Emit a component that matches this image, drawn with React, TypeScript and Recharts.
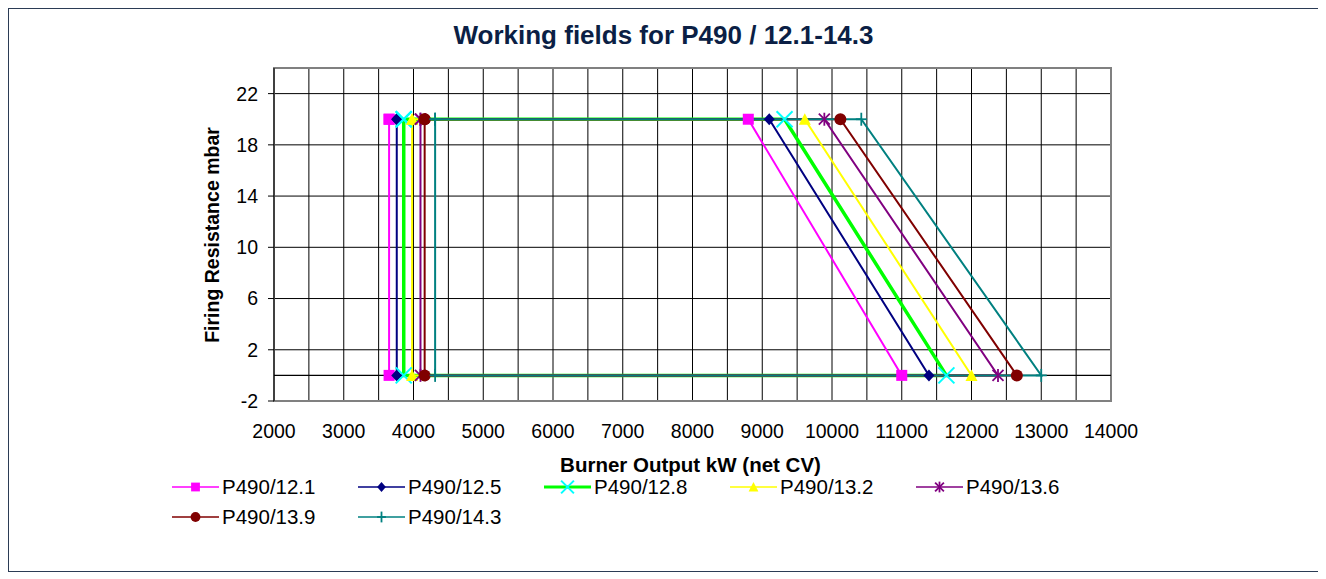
import React from "react"
import {
    CartesianGrid,
    Line,
    LineChart,
    ReferenceArea,
    ReferenceLine,
    XAxis,
    YAxis,
} from "recharts"

// series (kW at the corners of each working field)
const seriesNames = ["P490/12.1", "P490/12.5", "P490/12.8", "P490/13.2", "P490/13.6", "P490/13.9", "P490/14.3"]
const minOutput = [3650, 3760, 3860, 3980, 4100, 4160, 4310]
const maxOutputTop = [8800, 9100, 9320, 9610, 9890, 10120, 10420]
const maxOutputBase = [11000, 11390, 11640, 12000, 12380, 12650, 13000]
const topResistance = 20
const baseResistance = 0

const xTicks = [2000, 3000, 4000, 5000, 6000, 7000, 8000, 9000, 10000, 11000, 12000, 13000, 14000]
const xGrid = [2500, 3000, 3500, 4000, 4500, 5000, 5500, 6000, 6500, 7000, 7500, 8000, 8500, 9000, 9500, 10000, 10500, 11000, 11500, 12000, 12500, 13000, 13500]
const yTicks = [-2, 2, 6, 10, 14, 18, 22]

type Shape = "square" | "diamond" | "cross" | "triangle" | "star" | "circle" | "plus"

const styles: { line: string, marker: string, shape: Shape, width: number }[] = [
    { line: "#ff00ff", marker: "#ff00ff", shape: "square", width: 2 },
    { line: "#000080", marker: "#000080", shape: "diamond", width: 2 },
    { line: "#00ff00", marker: "#00ffff", shape: "cross", width: 3.5 },
    { line: "#ffff00", marker: "#ffff00", shape: "triangle", width: 2 },
    { line: "#800080", marker: "#800080", shape: "star", width: 2 },
    { line: "#800000", marker: "#800000", shape: "circle", width: 2 },
    { line: "#008080", marker: "#008080", shape: "plus", width: 2 },
]

const series = seriesNames.map((name, i) => ({
    name,
    ...styles[i],
    data: [
        { x: minOutput[i], y: topResistance },
        { x: maxOutputTop[i], y: topResistance },
        { x: maxOutputBase[i], y: baseResistance },
        { x: minOutput[i], y: baseResistance },
        { x: minOutput[i], y: topResistance },
    ],
}))

const FONT = "'Liberation Sans', Arial, sans-serif"

const Marker = ({ shape, x, y, color, s = 1 }: { shape: Shape, x: number, y: number, color: string, s?: number }) => {
    const r = 5.5 * s
    switch (shape) {
        case "square":
            return <rect x={x - r} y={y - r} width={2 * r} height={2 * r} fill={color} />
        case "diamond":
            return <polygon points={`${x},${y - r - 0.5} ${x + r},${y} ${x},${y + r + 0.5} ${x - r},${y}`} fill={color} />
        case "cross": {
            const c = 8 * s
            return (
                <g stroke={color} strokeWidth={2}>
                    <line x1={x - c} y1={y - c} x2={x + c} y2={y + c} />
                    <line x1={x - c} y1={y + c} x2={x + c} y2={y - c} />
                </g>
            )
        }
        case "triangle":
            return <polygon points={`${x},${y - r - 0.5} ${x + r + 0.5},${y + r} ${x - r - 0.5},${y + r}`} fill={color} />
        case "star":
            return (
                <g stroke={color} strokeWidth={1.8}>
                    <line x1={x - r} y1={y - r} x2={x + r} y2={y + r} />
                    <line x1={x - r} y1={y + r} x2={x + r} y2={y - r} />
                    <line x1={x} y1={y - r - 1} x2={x} y2={y + r + 1} />
                </g>
            )
        case "circle":
            return <circle cx={x} cy={y} r={r + 0.5} fill={color} />
        case "plus":
            return (
                <g stroke={color} strokeWidth={1.8}>
                    <line x1={x - r} y1={y} x2={x + r} y2={y} />
                    <line x1={x} y1={y - r - 1} x2={x} y2={y + r + 1} />
                </g>
            )
    }
    return null
}

export default function App() {
    return (
        <div
            style={{
                position: "relative",
                width: 1311,
                height: 564,
                boxSizing: "border-box",
                border: "1px solid #2b3b55",
                background: "#fff",
                fontFamily: FONT,
            }}
        >
            <div
                style={{
                    position: "absolute",
                    top: 12,
                    left: 0,
                    right: 0,
                    textAlign: "center",
                    fontSize: 26,
                    lineHeight: "28px",
                    fontWeight: "bold",
                    color: "#0b1f45",
                }}
            >
                Working fields for P490 / 12.1-14.3
            </div>

            <LineChart
                width={1309}
                height={562}
                margin={{ top: 59, right: 207, bottom: 130, left: 205 }}
                style={{ position: "absolute", top: 0, left: 0 }}
            >
                <CartesianGrid
                    stroke="#000"
                    strokeWidth={1}
                    verticalValues={xGrid}
                    horizontalValues={yTicks.slice(1)}
                />
                <ReferenceArea x1={2000} x2={14000} y1={-2} y2={24} fill="none" stroke="#808080" strokeWidth={2} />
                <ReferenceLine y={0} stroke="#000" strokeWidth={1.2} />
                <XAxis
                    type="number"
                    dataKey="x"
                    domain={[2000, 14000]}
                    ticks={xTicks}
                    interval={0}
                    axisLine={false}
                    tickLine={false}
                    tickSize={0}
                    tickMargin={23}
                    height={40}
                    tick={{ fill: "#000", fontSize: 19.5, fontFamily: FONT }}
                />
                <YAxis
                    type="number"
                    domain={[-2, 24]}
                    ticks={yTicks}
                    interval={0}
                    width={60}
                    axisLine={{ stroke: "#000" }}
                    tickLine={{ stroke: "#000" }}
                    tickSize={6}
                    tickMargin={10}
                    tick={{ fill: "#000", fontSize: 19.5, fontFamily: FONT }}
                />
                {series.map((s) => (
                    <Line
                        key={s.name}
                        data={s.data}
                        dataKey="y"
                        name={s.name}
                        type="linear"
                        stroke={s.line}
                        strokeWidth={s.width}
                        isAnimationActive={false}
                        activeDot={false}
                        dot={(p: any) => (
                            <Marker key={`${s.name}-${p.index}`} shape={s.shape} x={p.cx} y={p.cy} color={s.marker} />
                        )}
                    />
                ))}
            </LineChart>

            <div
                style={{
                    position: "absolute",
                    top: 444,
                    left: 0,
                    width: 1309,
                    textAlign: "center",
                    paddingLeft: 54,
                    boxSizing: "border-box",
                    fontSize: 20.5,
                    fontWeight: "bold",
                    color: "#000",
                }}
            >
                Burner Output kW (net CV)
            </div>
            <div
                style={{
                    position: "absolute",
                    left: 203,
                    top: 226,
                    transform: "translate(-50%, -50%) rotate(-90deg)",
                    whiteSpace: "nowrap",
                    fontSize: 19.5,
                    fontWeight: "bold",
                    color: "#000",
                }}
            >
                Firing Resistance mbar
            </div>

            <div
                style={{
                    position: "absolute",
                    left: 163,
                    top: 463,
                    width: 960,
                    display: "flex",
                    flexWrap: "wrap",
                }}
            >
                {series.map((s) => (
                    <div key={s.name} style={{ width: 186, height: 30, display: "flex", alignItems: "center" }}>
                        <svg width={48} height={20} style={{ flex: "none" }}>
                            <line x1={0} y1={10} x2={47} y2={10} stroke={s.line} strokeWidth={s.width === 2 ? 1.6 : 3} />
                            <Marker shape={s.shape} x={23.5} y={10} color={s.marker} s={0.8} />
                        </svg>
                        <span style={{ marginLeft: 2, fontSize: 20.5, color: "#000" }}>{s.name}</span>
                    </div>
                ))}
            </div>
        </div>
    )
}
